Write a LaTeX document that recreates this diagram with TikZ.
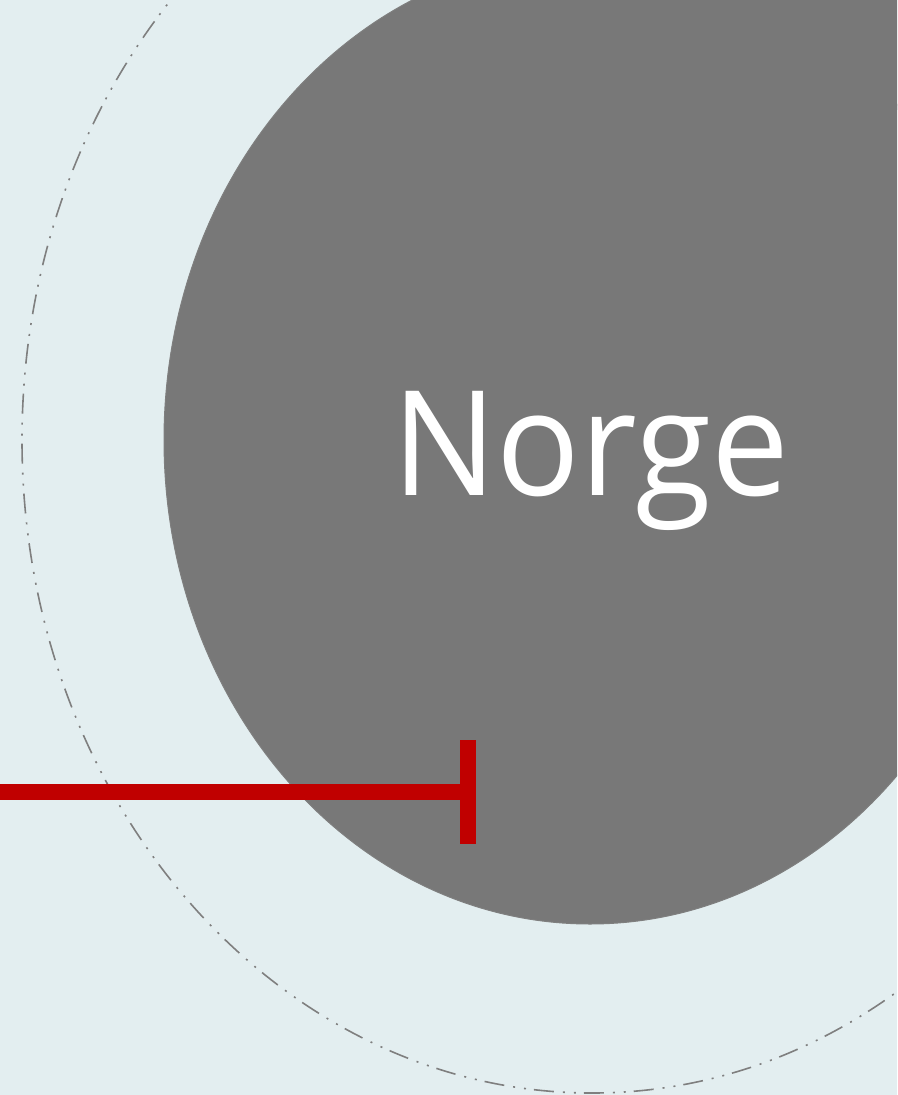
\documentclass[tikz,border=0pt]{standalone}
\usepackage{fontspec}
\setmainfont{Open Sans}
\newfontfamily\labelfont[FakeStretch=0.95]{Open Sans}
\definecolor{bgcol}{HTML}{E3EEF0}
\definecolor{discgray}{HTML}{787878}
\definecolor{rimgray}{HTML}{7F7F7F}
\definecolor{barred}{HTML}{C00000}
\tikzset{
  disc/.style={fill=discgray, draw=rimgray, line width=1pt},
  discfill/.style={fill=discgray},
  orbit/.style={draw=rimgray, line width=1.6pt, dash pattern=on 20pt off 8pt on 2pt off 9pt on 2pt off 9pt},
  redbar/.style={draw=barred, line width=16pt},
  label/.style={text=white, inner sep=0pt, font=\labelfont\fontsize{146}{146}\selectfont}
}
\begin{document}
\begin{tikzpicture}[x=1pt,y=-1pt]
\fill[bgcol] (0,0) rectangle (897,1095);
\useasboundingbox (0,0) rectangle (897,1095);
\begin{scope}
\clip (0,0) rectangle (897,1095);
\path[disc] (590,440) ellipse [x radius=426, y radius=484];
\path[discfill] (760,-5) rectangle (902,110);
\path[orbit] (592,440) ellipse [x radius=570, y radius=653];
\end{scope}
\node[label, anchor=base west] (norge) at (392,495) {Norge};
\coordinate (start) at (0,792);
\coordinate (end) at (468,792);
\coordinate (bartop) at (468,740);
\coordinate (barbot) at (468,844);
\draw[redbar] (start) -- (end);
\draw[redbar] (bartop) -- (barbot);
\end{tikzpicture}
\end{document}
